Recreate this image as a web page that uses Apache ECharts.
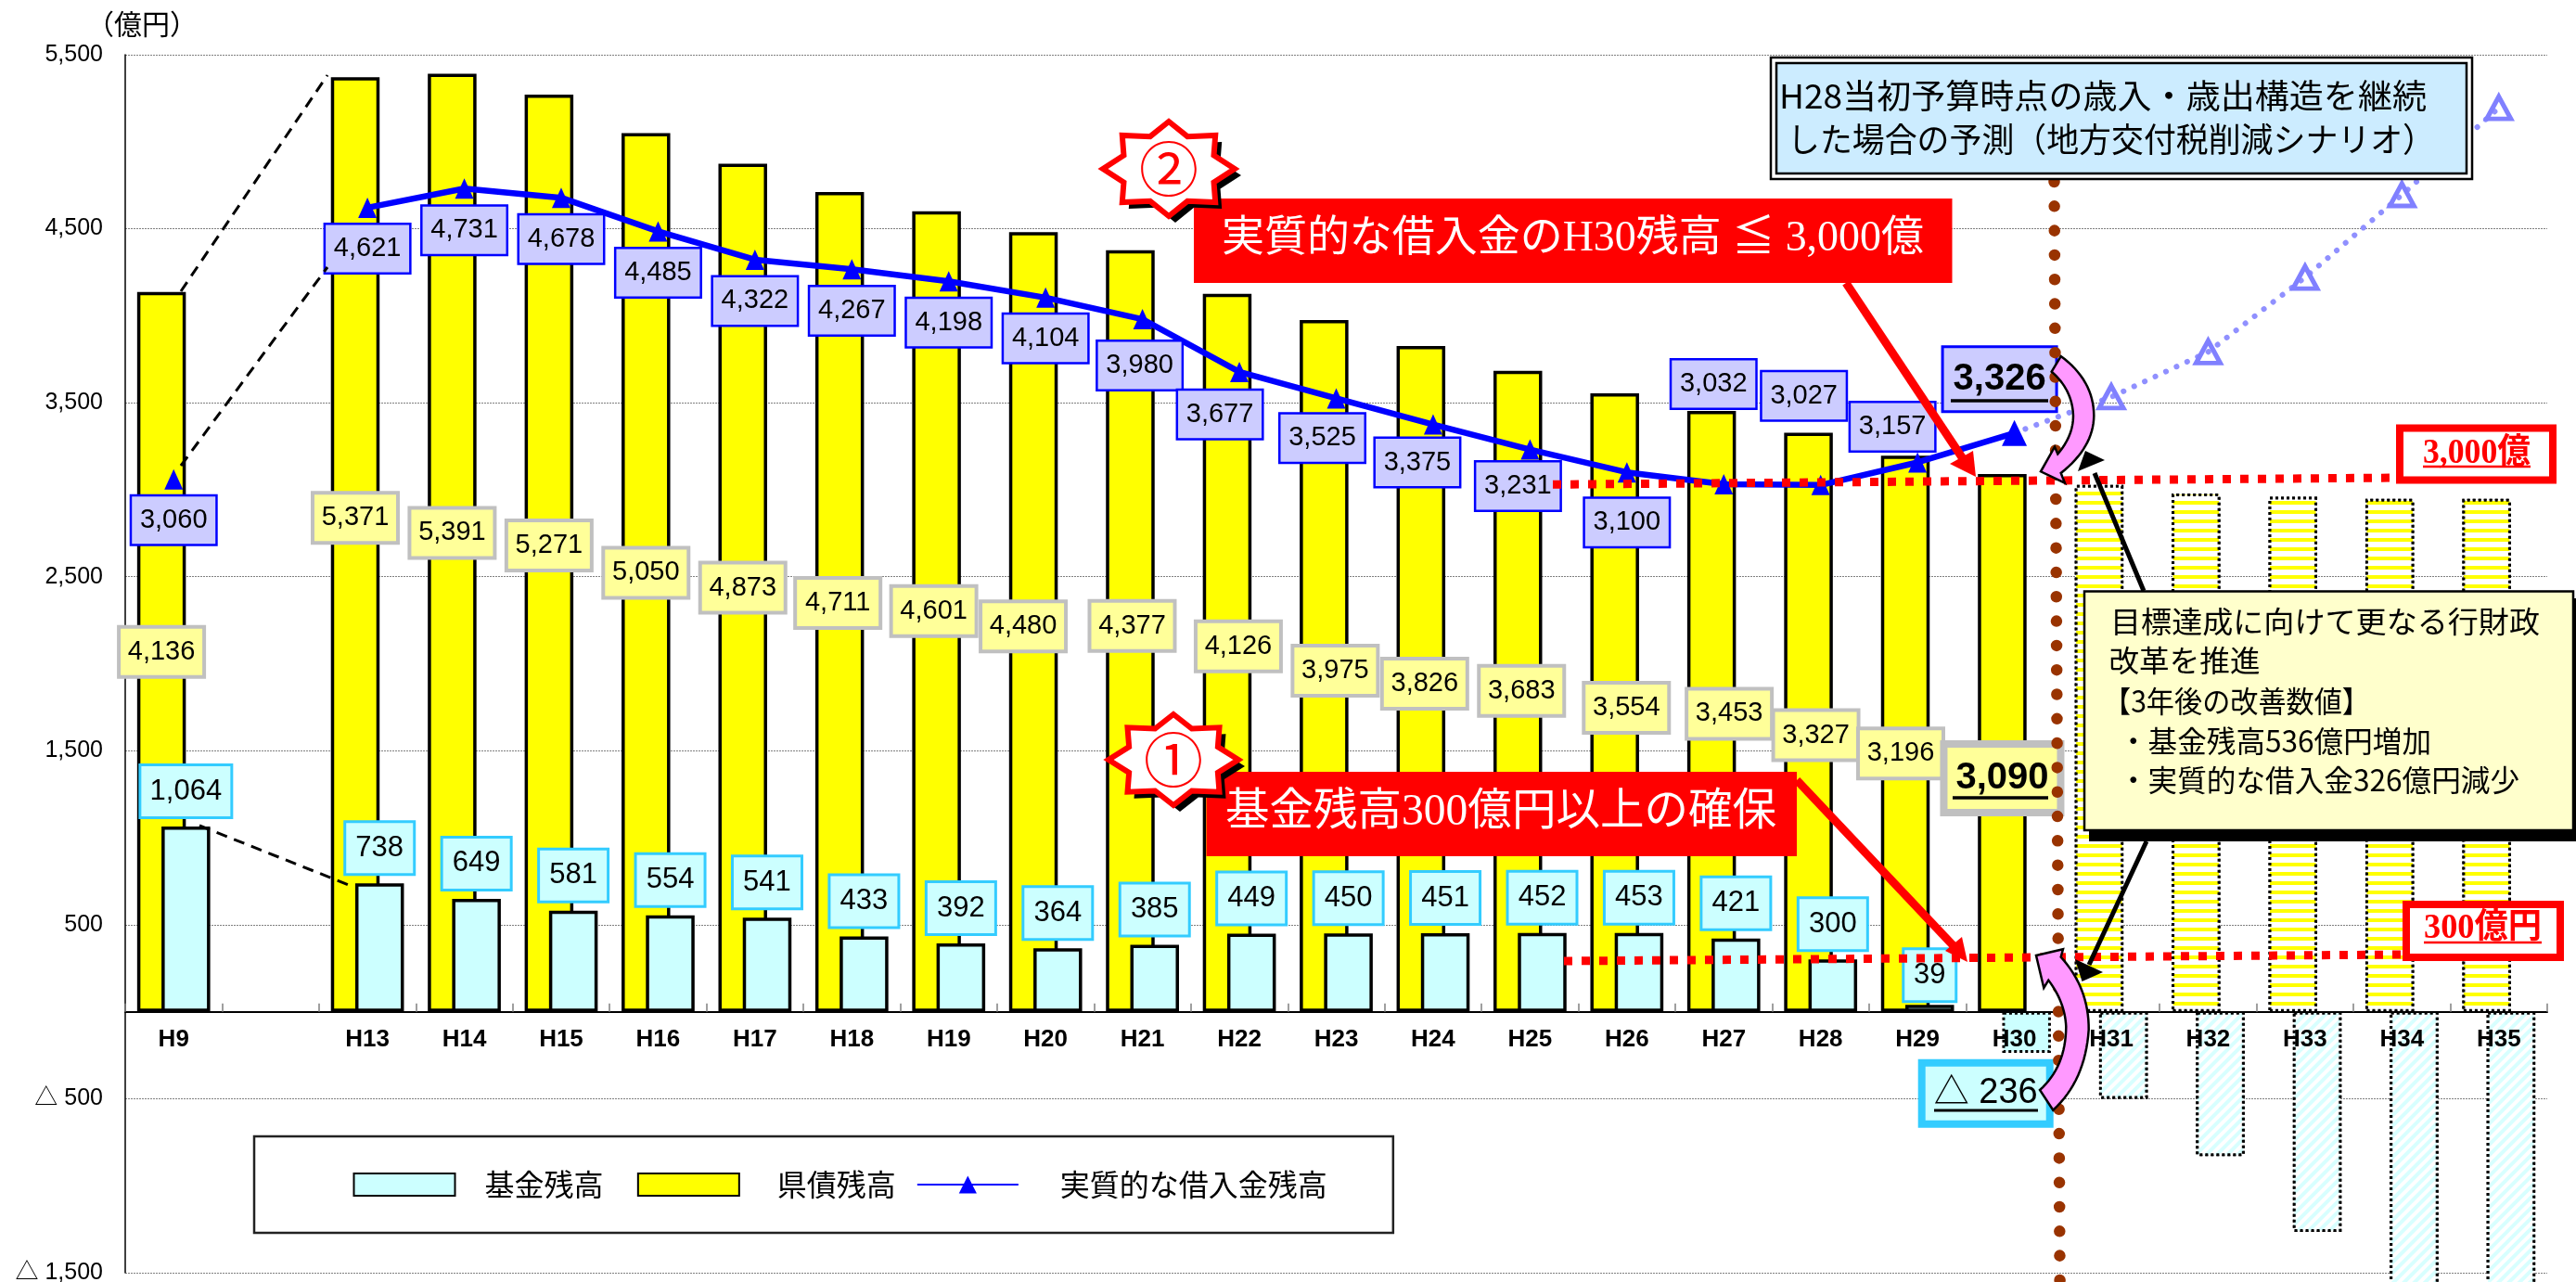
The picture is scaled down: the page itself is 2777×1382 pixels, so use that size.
<!DOCTYPE html>
<html><head><meta charset="utf-8">
<style>html,body{margin:0;padding:0;background:#fff}#c{width:2777px;height:1382px}</style>
<script src="https://cdn.jsdelivr.net/npm/echarts@6/dist/echarts.min.js"></script>
</head><body><div id="c"></div>
<script>
// ---- data ----
const categories = ['H9','','H13','H14','H15','H16','H17','H18','H19','H20','H21','H22','H23','H24','H25','H26','H27','H28','H29','H30','H31','H32','H33','H34','H35'];
const bondBalance = [4136,null,5371,5391,5271,5050,4873,4711,4601,4480,4377,4126,3975,3826,3683,3554,3453,3327,3196,3090,3027,2978,2959,2947,2947];
const fundBalance = [1064,null,738,649,581,554,541,433,392,364,385,449,450,451,452,453,421,300,39,-236,-500,-829,-1265,-1700,-2100];
const realDebt = [3060,null,4621,4731,4678,4485,4322,4267,4198,4104,3980,3677,3525,3375,3231,3100,3032,3027,3157,3326];
const realDebtForecast = [null,null,null,null,null,null,null,null,null,null,null,null,null,null,null,null,null,null,null,3326,3533,3792,4220,4695,5195];
const yTicks = [-1500,-500,500,1500,2500,3500,4500,5500];
// label nudges relative to each mark (px)
const bondLabelDx = [0,0,0,0,0,0,0,-2,-3,-11,2,12,12,4,4,12.6,19,8,-5,0];
const bondLabelDy = [388,0,475,495,486,474,457,443,431,425,405,380,378,364,345,339,326.5,326,321,328];
const fundLabelDx = [0,0,0,0,0,0,0,0,0,0,0,0,0,0,0,0,0,0,0,-44];
const fundLabelDy = [-38,0,-38,-38,-38,-38,-38,-38,-38,-38,-38,-38,-38,-38,-38,-38,-38,-38,-32,88];
const debtLabelDx = [0,0,0,0,0,0,0,0,0,0,-3,-21,-15,-17,-13,0,-11,-18,-27,-16];
const debtLabelDy = [44,0,44,45,44.6,44.5,44.5,44.7,44.5,44,50,45.7,42.8,41,39.3,54,-108,-96,-38.5,-58];

const SANS = '"Liberation Sans","Noto Sans CJK JP"';
const CJK = '"Noto Sans CJK JP"';
const SERIF = '"Liberation Serif","Noto Sans CJK JP"';
const fmt = v => Math.abs(v).toString().replace(/\B(?=(\d{3})+$)/g, ',');
const FIRST_FORECAST = 20, H30 = 19;

function baseLabel(extra) {
  return Object.assign({show:true, position:['50%',0], align:'center', verticalAlign:'middle',
    fontFamily:SANS, fontSize:29, color:'#000', lineHeight:54}, extra);
}
const hatchYellow = {color:'#fff', borderColor:'#000', borderWidth:3, borderType:[3,3],
  decal:{symbol:'rect', symbolSize:1, color:'#ffff00', backgroundColor:'#ffffff', dashArrayX:[1,0], dashArrayY:[3.5,5.5], rotation:0}};
const hatchCyan = {color:'#fff', borderColor:'#000', borderWidth:3, borderType:[3,3],
  decal:{symbol:'rect', symbolSize:1, color:'#d8ffff', backgroundColor:'#ffffff', dashArrayX:[1,0], dashArrayY:[4,4], rotation:-Math.PI/4}};

const bondData = bondBalance.map((v,i) => {
  if (v === null) return null;
  if (i >= FIRST_FORECAST) return {value:v, itemStyle:hatchYellow, label:{show:false}};
  const big = i === H30;
  return {value:v, label:baseLabel({
    formatter:fmt(v), offset:[bondLabelDx[i], bondLabelDy[i]],
    backgroundColor:'#ffff99', borderColor:'#c0c0c0', borderWidth:big?8:4,
    width:big?118:88, height:big?66:50, lineHeight:big?66:50, fontSize:big?40:29, fontWeight:big?'bold':'normal'})};
});
const fundData = fundBalance.map((v,i) => {
  if (v === null) return null;
  if (i >= FIRST_FORECAST) return {value:v, itemStyle:hatchCyan, label:{show:false}};
  const big = i === H30;
  return {value:v,
    itemStyle: big ? {color:'#ccffff', borderColor:'#000', borderWidth:3, borderType:[3,3]} : undefined,
    label:baseLabel({
      formatter: v < 0 ? '△ ' + fmt(v) : fmt(v), offset:[fundLabelDx[i], fundLabelDy[i]],
      backgroundColor:'#ccffff', borderColor:'#33ccff', borderWidth:big?8:3,
      width:big?130:(v>=1000?96:(v<100?54:72)), height:big?58:54, lineHeight:big?58:54,
      fontSize:big?38:31})};
});
const debtData = realDebt.map((v,i) => {
  if (v === null) return null;
  const big = i === H30;
  return {value:v, symbolSize: big?[27,28]:[20,22], label:baseLabel({
    position:['50%','50%'], formatter:fmt(v), offset:[debtLabelDx[i], debtLabelDy[i]],
    backgroundColor:'#ccccff', borderColor:'#0000ff', borderWidth:big?3:2.5,
    width:big?120:90, height:big?67:51, lineHeight:big?67:51, fontSize:big?40:29, fontWeight:big?'bold':'normal'})};
});
const forecastData = realDebtForecast.map((v,i) => v === null ? null : (i === H30 ? {value:v, symbol:'none'} : v));

// ---- annotation helpers ----
const measure = document.createElement('canvas').getContext('2d');
const Z = 100;
function text(t, x, w, y, fs, fill, family, weight) {
  const font = (weight||'normal') + ' ' + fs + 'px ' + (family||CJK);
  measure.font = font;
  return {type:'text', z:Z, silent:true, x:x, y:y, scaleX:w/measure.measureText(t).width,
    style:{text:t, x:0, y:0, fill:fill||'#000', font:font, align:'left', verticalAlign:'middle'}};
}
function line(x1,y1,x2,y2,stroke,width,dash,cap) {
  return {type:'line', z:Z, silent:true, shape:{x1,y1,x2,y2},
    style:{stroke, lineWidth:width, lineDash:dash||null, lineCap:cap||'butt', fill:null}};
}
function rect(x,y,w,h,fill,stroke,lw) {
  return {type:'rect', z:Z, silent:true, shape:{x,y,width:w,height:h},
    style:{fill, stroke:stroke||null, lineWidth:lw||0}};
}
function poly(points, fill, stroke, lw) {
  return {type:'polygon', z:Z, silent:true, shape:{points}, style:{fill, stroke:stroke||null, lineWidth:lw||0}};
}
function starPoints(cx,cy,rx,ry) {
  const pts = [];
  for (let k=0;k<16;k++) {
    const a = -Math.PI/2 + k*Math.PI/8, r = k%2 ? 0.74 : 1;
    pts.push([cx + rx*r*Math.cos(a), cy + ry*r*Math.sin(a)]);
  }
  return pts;
}
function star(cx,cy,rx,ry,glyph) {
  return [
    poly(starPoints(cx+7,cy+7,rx,ry),'#000'),
    poly(starPoints(cx,cy,rx,ry),'#fff','#ff0000',6),
    {type:'text', z:Z, silent:true, x:cx, y:cy, style:{text:glyph, x:0, y:0, fill:'#ff0000', font:'normal 64px '+CJK, align:'center', verticalAlign:'middle'}}
  ];
}
// outline made of straight points and quadratic [cx,cy,x,y] segments, sampled to points
function curved(segs) {
  const pts = []; let cur = null;
  segs.forEach(s => {
    if (s.length === 2) { pts.push(s); cur = s; }
    else {
      for (let t=1;t<=16;t++) {
        const u=t/16, a=(1-u)*(1-u), b=2*u*(1-u), c=u*u;
        pts.push([a*cur[0]+b*s[0]+c*s[2], a*cur[1]+b*s[1]+c*s[3]]);
      }
      cur = [s[2],s[3]];
    }
  });
  return pts;
}

const graphics = [
  // broken-axis connectors
  line(195,314,353,81,'#000',3,[12,8]),
  line(195,502,353,288,'#000',3,[12,8]),
  line(215,890,376,954,'#000',3,[12,8]),
  // target lines
  line(2214.5,196,2220.6,1382,'#993300',12.5,[0.01,26.3],'round'),
  line(1674,522.3,2584,515,'#ff0000',9,[9,10]),
  line(1686,1036,2592,1029,'#ff0000',9,[9,10]),
  // top-right scenario box
  rect(1909,62,756,131,'#fff','#000',2.5),
  rect(1915,68,744,119,'#ccecff','#000',2.5),
  text('H28当初予算時点の歳入・歳出構造を継続',1918,698,103,36),
  text('した場合の予測（地方交付税削減シナリオ）',1927,698,150,36),
  // red callouts
  line(1990,305,2121,502,'#ff0000',9),
  poly([[2130,514],[2102,500],[2127,486]],'#ff0000'),
  line(1937,841,2110,1024,'#ff0000',9),
  poly([[2121,1037],[2097,1025],[2115,1010]],'#ff0000'),
  rect(1287,214,817.5,91,'#ff0000'),
  text('実質的な借入金のH30残高 ≦ 3,000億',1317,757,258,46,'#fff',SERIF),
  rect(1300.5,832,636.5,91,'#ff0000'),
  text('基金残高300億円以上の確保',1321,594,876,48,'#fff',SERIF),
  ...star(1260,182,71,51,'②'),
  ...star(1265,819,70,49,'①'),
  // target tags
  rect(2587,461.5,165,56,'#fff','#ff0000',8),
  text('3,000億',2612,116,489,37,'#ff0000',SERIF,'bold'),
  line(2612,503,2728,503,'#ff0000',2.5),
  rect(2594,975,166,57,'#fff','#ff0000',8),
  text('300億円',2613,127,1001,37,'#ff0000',SERIF,'bold'),
  line(2613,1016,2740,1016,'#ff0000',2.5),
  // underlines of the key values
  line(2103,432,2208,432,'#000',3.5),
  line(2105,860,2208,860,'#000',3.5),
  line(2085,1197,2197,1197,'#000',3),
  // black arrows and note
  line(2258,510,2311,637,'#000',5),
  poly([[2248,486],[2240,508],[2269,496]],'#000'),
  line(2252,1040,2314,907,'#000',5),
  poly([[2244.5,1058],[2237,1034],[2267,1048]],'#000'),
  rect(2252,645,525,262,'#000'),
  rect(2247,637.5,527,257.5,'#ffffcc','#000',2.5),
  text('目標達成に向けて更なる行財政',2275,463,670,32),
  text('改革を推進',2273.5,163,712,32),
  text('【3年後の改善数値】',2267,288,756,32),
  text('・基金残高536億円増加',2284,337,799,32),
  text('・実質的な借入金326億円減少',2284,432,841,32),
  // pink curved arrows
  poly(curved([[2211.7,400.7],[2221.7,384],[2257,410,2257.3,448],[2257,482,2221.7,510],[2226,520.7],[2200,508.3],[2215,481.7],[2218.3,489.3],[2235,470,2235,448],[2234,420,2211.7,400.7]]),'#ff99ff','#000',2.5),
  poly(curved([[2195,1030],[2224,1023.3],[2221.7,1031.7],[2252,1065,2251.7,1110],[2248,1165,2213.3,1196.7],[2199,1175],[2227,1150,2227.3,1106.7],[2226,1080,2208.3,1056.7],[2203.3,1065]]),'#ff99ff','#000',2.5)
];

const chart = echarts.init(document.getElementById('c'), null, {renderer:'canvas'});
chart.setOption({
  animation:false,
  backgroundColor:'#fff',
  grid:{left:135, right:31, top:59, bottom:10, containLabel:false, outerBoundsMode:'none'},
  legend:{
    left:274, top:1225, orient:'horizontal',
    padding:[36,71,36,106.5], itemGap:22, itemWidth:109, itemHeight:24,
    borderColor:'#222', borderWidth:2.5, backgroundColor:'#fff',
    textStyle:{fontFamily:CJK, fontSize:32, color:'#000'},
    formatter:name => name === '基金残高' ? name + '  ' : name,
    data:[
      {name:'基金残高', icon:'rect', textStyle:{padding:[0,0,0,27]}},
      {name:'県債残高', icon:'rect', textStyle:{padding:[0,0,0,36]}},
      {name:'実質的な借入金残高', textStyle:{padding:[0,0,0,40]}}
    ]
  },
  xAxis:{
    type:'category', data:categories, z:5, position:'bottom', offset:-281.36,
    axisLine:{onZero:false, lineStyle:{color:'#000', width:2}},
    axisTick:{show:true, inside:true, length:9, alignWithLabel:false, interval:0, lineStyle:{color:'#808080', width:1.5}},
    axisLabel:{interval:0, margin:17, fontFamily:SANS, fontWeight:'bold', fontSize:26, color:'#000'},
    splitLine:{show:false}
  },
  yAxis:{
    type:'value', min:-1500, max:5500,
    name:'（億円）', nameLocation:'end', nameGap:18,
    nameTextStyle:{fontFamily:CJK, fontSize:30, color:'#000', align:'center', padding:[0,0,0,36]},
    axisLine:{show:true, onZero:false, lineStyle:{color:'#000', width:1.5}},
    axisTick:{show:false, customValues:yTicks},
    axisLabel:{customValues:yTicks, margin:24, fontFamily:SANS, fontSize:25, color:'#000',
      formatter:v => (v<0?'△ ':'') + fmt(v)},
    splitLine:{show:true, lineStyle:{color:'#808080', width:1.2, type:[2,1]}}
  },
  series:[
    {name:'県債残高', type:'bar', data:bondData, barWidth:52.5, barGap:'-50%', clip:false,
      itemStyle:{color:'#ffff00', borderColor:'#000', borderWidth:3.5}},
    {name:'基金残高', type:'bar', data:fundData, barWidth:52.5, barGap:'-50%', clip:false,
      itemStyle:{color:'#ccffff', borderColor:'#000', borderWidth:3.5}},
    {name:'予測', type:'line', data:forecastData, connectNulls:false, symbol:'triangle', symbolSize:[26,24], z:3,
      lineStyle:{color:'#9090ff', width:6, type:[0.1,12.5], cap:'round'},
      itemStyle:{color:'rgba(255,255,255,0)', borderColor:'#8080ff', borderWidth:5}},
    {name:'実質的な借入金残高', type:'line', data:debtData, connectNulls:false, symbol:'triangle', z:4,
      lineStyle:{color:'#0000ff', width:6.5}, itemStyle:{color:'#0000ff'}}
  ],
  graphic:{elements:graphics}
});
</script></body></html>
